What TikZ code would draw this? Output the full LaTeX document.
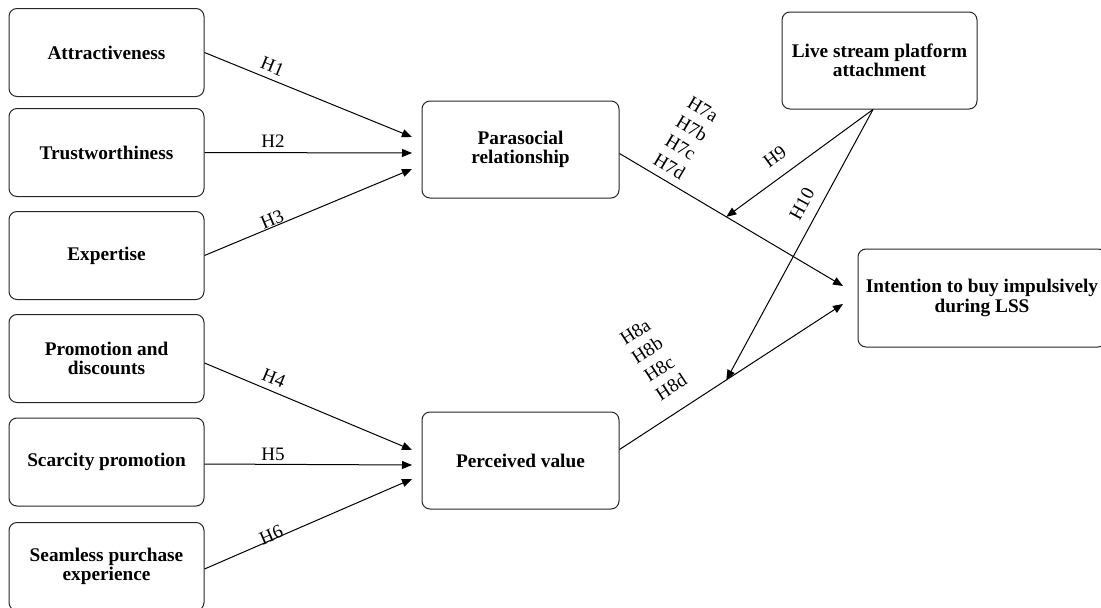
\documentclass[tikz,border=0pt]{standalone}
\usepackage{fontspec}
\setmainfont{Liberation Serif}
\usetikzlibrary{arrows.meta,calc}
\begin{document}
\begin{tikzpicture}[x=1pt,y=-1pt,
  box/.style={draw=black!85, line width=1pt, rounded corners=8pt, align=center,
    font=\fontsize{19.3}{19.5}\selectfont\bfseries, inner sep=0pt},
  lbox/.style={box, minimum width=195pt, minimum height=88pt},
  arr/.style={line width=1pt, -{Triangle[length=10pt,width=8pt]}},
  ln/.style={line width=1pt},
  lab/.style={font=\fontsize{19}{22}\selectfont, sloped, above, inner sep=1pt, align=center}]
\useasboundingbox (0,0) rectangle (1101,608);
% left boxes
\node[lbox] (att) at (106.5,52.5) {Attractiveness};
\node[lbox] (tru) at (106.5,152.5) {Trustworthiness};
\node[lbox] (exp) at (106.5,255.5) {Expertise};
\node[lbox] (pro) at (106.5,358.5) {Promotion and\\discounts};
\node[lbox] (sca) at (106.5,462) {Scarcity promotion};
\node[lbox] (sea) at (106.5,566.5) {Seamless purchase\\experience};
% middle boxes
\node[box, minimum width=197pt, minimum height=97pt] (par) at (520.5,149.5) {Parasocial\\relationship};
\node[box, minimum width=197pt, minimum height=97pt] (per) at (520.5,460.5) {Perceived value};
% right boxes
\node[box, minimum width=195pt, minimum height=97pt] (live) at (879.5,60.5) {Live stream platform\\attachment};
\node[box, minimum width=248pt, minimum height=98pt] (int) at (982,298) {Intention to buy impulsively\\during LSS};
% arrow tips
\coordinate (t1) at (412,137);
\coordinate (t2) at (412,153);
\coordinate (t3) at (412,169);
\coordinate (t4) at (412,450);
\coordinate (t5) at (412,465);
\coordinate (t6) at (412,479);
\coordinate (i1) at (843,286);
\coordinate (i2) at (843,304);
% H1-H6
\draw[arr] (att.east) -- node[lab, pos=0.305, outer sep=5.5pt] {H1} (t1);
\draw[arr] (tru.east) -- node[lab, pos=0.33, outer sep=3.7pt] {H2} (t2);
\draw[arr] (exp.east) -- node[lab, pos=0.34, outer sep=0.2pt] {H3} (t3);
\draw[arr] ([yshift=-4.5pt]pro.east) -- node[lab, pos=0.31, outer sep=5.5pt] {H4} (t4);
\draw[arr] ([yshift=-2pt]sca.east) -- node[lab, pos=0.33, outer sep=2.7pt] {H5} (t5);
\draw[arr] ([yshift=-2.5pt]sea.east) -- node[lab, pos=0.33, outer sep=-2.7pt] {H6} (t6);
% H7, H8
\draw[arr] ([yshift=-4pt]par.east) -- node[lab, pos=0.19, outer sep=7pt] {H7a\\H7b\\H7c\\H7d} coordinate[pos=0.478] (m7) (i1);
\draw[arr] ([yshift=11pt]per.east) -- node[lab, pos=0.29, outer sep=16.5pt] {H8a\\H8b\\H8c\\H8d} coordinate[pos=0.478] (m8) (i2);
% H9, H10
\draw[arr] ([xshift=-6.5pt]live.south) -- node[lab, pos=0.59, outer sep=12.5pt] {H9} (m7);
\draw[arr] ([xshift=-6.5pt]live.south) -- node[lab, pos=0.38, outer sep=10pt] {H10} (m8);
\end{tikzpicture}
\end{document}
